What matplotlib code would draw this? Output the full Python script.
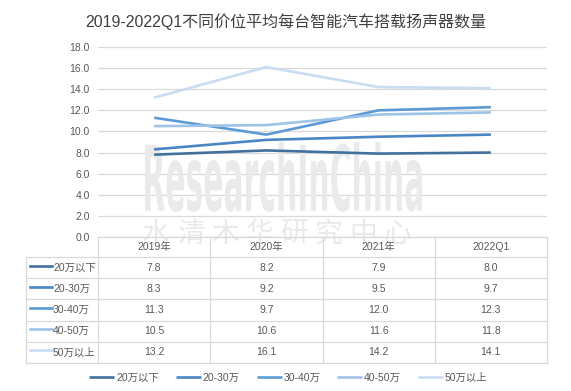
import numpy as np
import matplotlib
matplotlib.use('Agg')
import matplotlib.pyplot as plt
from matplotlib.textpath import TextPath
from matplotlib.patches import PathPatch
from matplotlib.font_manager import FontProperties
from matplotlib.transforms import Affine2D, blended_transform_factory

plt.rcParams['font.family'] = ['Liberation Sans', 'Noto Sans CJK SC', 'DejaVu Sans']

# data
periods = ['2019年', '2020年', '2021年', '2022Q1']
series = ['20万以下', '20-30万', '30-40万', '40-50万', '50万以上']
below_20 = [7.8, 8.2, 7.9, 8.0]
p20_30 = [8.3, 9.2, 9.5, 9.7]
p30_40 = [11.3, 9.7, 12.0, 12.3]
p40_50 = [10.5, 10.6, 11.6, 11.8]
above_50 = [13.2, 16.1, 14.2, 14.1]
values = [below_20, p20_30, p30_40, p40_50, above_50]
yticks = np.arange(0, 18.1, 2.0)

colors = ['#41719C', '#4A86C5', '#5B9BD5', '#9DC3E6', '#C9DCF2']
grid_c = '#D9D9D9'
text_c = '#595959'

W, H = 571, 391
fig = plt.figure(figsize=(W / 100, H / 100), dpi=100)

def fx(px):
    return px / W

def fy(py):
    return 1 - py / H

ax = fig.add_axes([fx(98), fy(237), fx(547) - fx(98), fy(47) - fy(237)])
x = np.arange(len(periods))
for vals, name, c in zip(values, series, colors):
    ax.plot(x, vals, color=c, lw=1.9, label=name, zorder=3, solid_capstyle='butt')

ax.set_xlim(-0.5, len(periods) - 0.5)
ax.set_ylim(0, 18)
ax.set_yticks(yticks)
ax.set_yticklabels(['%.1f' % v for v in yticks], fontsize=7.5, color=text_c)
ax.tick_params(axis='y', length=0, pad=6)
ax.tick_params(axis='x', length=0, labelbottom=False)
ax.yaxis.grid(True, color=grid_c, lw=0.9)
ax.set_axisbelow(True)
for s in ax.spines.values():
    s.set_visible(False)

fig.text(0.5, fy(22), '2019-2022Q1不同价位平均每台智能汽车搭载扬声器数量', ha='center',
         va='center', fontsize=11.5, color='#404040')

# watermark
tp = TextPath((0, 0), 'ResearchInChina', size=1,
              prop=FontProperties(family='Liberation Sans Narrow', weight='bold'))
ext = tp.get_extents()
sx = (fx(422) - fx(145)) / ext.width
sy = (fy(142) - fy(212)) / ext.height
tr = Affine2D().translate(-ext.x0, -ext.y0).scale(sx, sy).translate(fx(145), fy(212))
ax.add_patch(PathPatch(tp, transform=tr + fig.transFigure, fc='#E9EAEC', ec='none',
                       zorder=1.5, clip_on=False))
for k, ch in enumerate('水清木华研究中心'):
    ax.text(fx(156 + 34.5 * k), fy(234), ch, transform=fig.transFigure, ha='center',
            va='center', fontsize=20, color='#E8E9EB', family=['Noto Sans CJK SC'],
            fontweight='light', zorder=1.5, clip_on=False)

# table
bt = blended_transform_factory(ax.transData, fig.transFigure)
col_edges = np.arange(len(periods) + 1) - 0.5
lab_left = -0.5 - 72 / 112.0
row_edges = np.linspace(257, 363, len(series) + 1)

lk = dict(transform=bt, color=grid_c, lw=0.9, zorder=5, clip_on=False)
ax.plot([col_edges[0], col_edges[-1]], [fy(237), fy(237)], **lk)
for ry in row_edges:
    ax.plot([lab_left, col_edges[-1]], [fy(ry), fy(ry)], **lk)
ax.plot([lab_left, lab_left], [fy(257), fy(363)], **lk)
for cx in col_edges:
    ax.plot([cx, cx], [fy(237), fy(363)], **lk)

for i, p in enumerate(periods):
    ax.text(i, fy(247), p, transform=bt, ha='center', va='center', fontsize=7.5,
            color=text_c, zorder=6)
for r, (vals, name, c) in enumerate(zip(values, series, colors)):
    yc = (row_edges[r] + row_edges[r + 1]) / 2
    ax.plot([fx(30), fx(52)], [fy(yc - 2), fy(yc - 2)], transform=fig.transFigure,
            color=c, lw=1.9, zorder=6, clip_on=False)
    ax.text(fx(53), fy(yc), name, transform=fig.transFigure, ha='left', va='center',
            fontsize=7.5, color=text_c, zorder=6)
    for i, v in enumerate(vals):
        ax.text(i, fy(yc), '%.1f' % v, transform=bt, ha='center', va='center',
                fontsize=7.5, color=text_c, zorder=6)

leg = fig.legend(loc='center', bbox_to_anchor=(0.505, fy(378)), ncol=5, frameon=False,
                 fontsize=7.5, handlelength=2.4, handletextpad=0.2, columnspacing=1.6)
for t in leg.get_texts():
    t.set_color(text_c)

fig.savefig('out.png', dpi=100)
